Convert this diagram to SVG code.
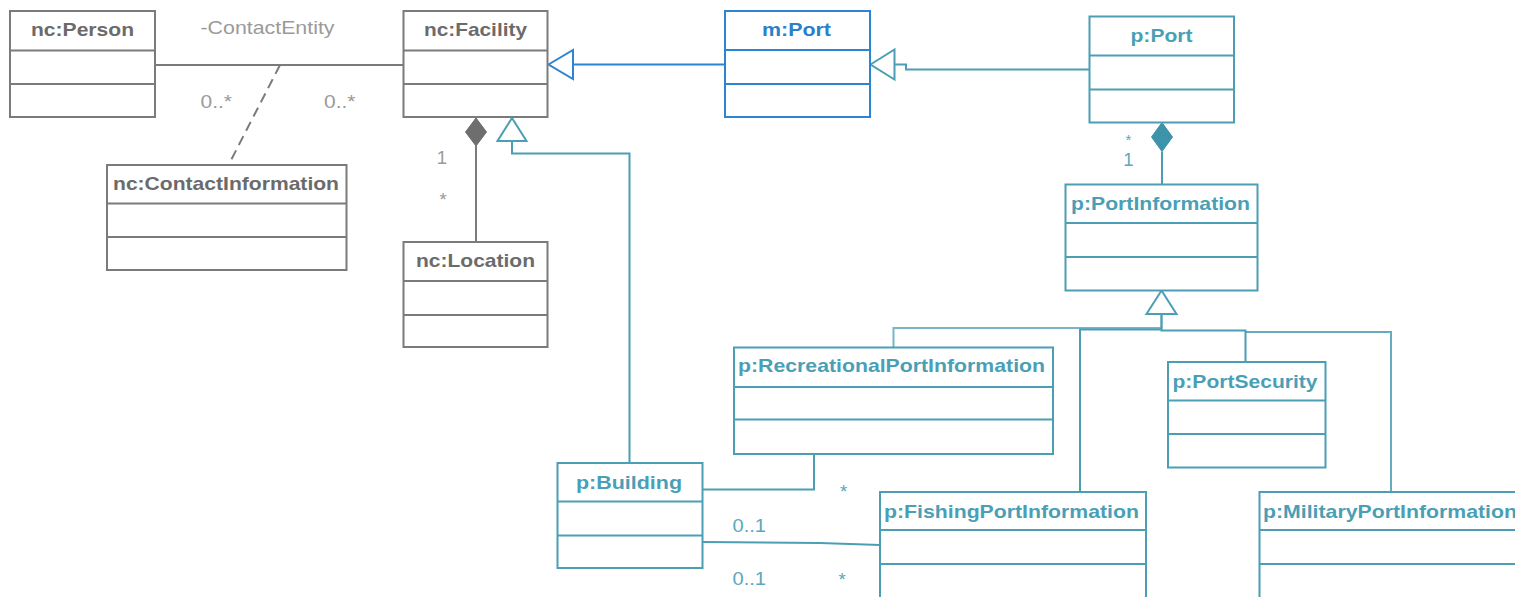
<svg xmlns="http://www.w3.org/2000/svg" width="1515" height="597" viewBox="0 0 1515 597">
  <style>
    .box { fill: #ffffff; stroke-width: 2; }
    .div { stroke-width: 2; fill: none; }
    .gray { stroke: #7b7b7b; }
    .teal { stroke: #4b9eb4; }
    .blue { stroke: #2d84d0; }
    .title { font-family: "Liberation Sans", Arial, sans-serif; font-weight: bold; font-size: 18.5px; text-anchor: middle; }
    .title.start { text-anchor: start; }
    .t-gray { fill: #6b6b6b; }
    .t-teal { fill: #4a9fb6; }
    .t-blue { fill: #2a80cc; }
    .lbl { font-family: "Liberation Sans", Arial, sans-serif; font-size: 18.5px; }
    .star { font-size: 15px; }
    .l-gray { fill: #9a9a9a; }
    .l-teal { fill: #5aa8bd; }
    .line { fill: none; stroke-width: 2; }
  </style>

  <!-- connectors -->
  <g id="connectors">
    <!-- ContactEntity association with association class -->
    <line class="line gray" x1="155" y1="65" x2="403.5" y2="65"/>
    <line class="line gray" x1="280" y1="65" x2="228.5" y2="165" stroke-dasharray="10,6"/>
    <text class="lbl l-gray" x="200.5" y="33.5" textLength="134" lengthAdjust="spacingAndGlyphs">-ContactEntity</text>
    <text class="lbl l-gray" x="200.5" y="107.5" textLength="31.5" lengthAdjust="spacingAndGlyphs">0..*</text>
    <text class="lbl l-gray" x="324" y="107.5" textLength="31.5" lengthAdjust="spacingAndGlyphs">0..*</text>

    <!-- Facility composition of Location -->
    <line class="line gray" x1="476" y1="146" x2="476" y2="242"/>
    <polygon points="476,118 486.5,132 476,146 465.5,132" fill="#6e6e6e" stroke="#6e6e6e" stroke-width="1"/>
    <text class="lbl l-gray" x="442" y="164" text-anchor="middle">1</text>
    <text class="lbl l-gray" x="443" y="206" text-anchor="middle">*</text>

    <!-- Building generalizes Facility -->
    <polyline class="line teal" points="512,141 512,153.5 629.5,153.5 629.5,463"/>
    <polygon points="512,118 526.5,141 497.5,141" fill="#ffffff" stroke="#4b9eb4" stroke-width="2"/>

    <!-- m:Port generalizes Facility -->
    <line class="line blue" x1="573" y1="64.5" x2="725" y2="64.5"/>
    <polygon points="548.5,64.5 573,50 573,79" fill="#ffffff" stroke="#2d84d0" stroke-width="2"/>

    <!-- p:Port generalizes m:Port -->
    <polyline class="line teal" points="894.5,64.5 906,64.5 906,69.5 1089.5,69.5"/>
    <polygon points="870.5,64.5 894.5,49.5 894.5,79.5" fill="#ffffff" stroke="#4b9eb4" stroke-width="2"/>

    <!-- p:Port composition of PortInformation -->
    <line class="line teal" x1="1162" y1="151.5" x2="1162" y2="184.5"/>
    <polygon points="1162,122.5 1172.5,137 1162,151.5 1151.5,137" fill="#3c93aa" stroke="#3c93aa" stroke-width="1"/>
    <text class="lbl star l-teal" x="1128.5" y="144.5" text-anchor="middle">*</text>
    <text class="lbl l-teal" x="1128.5" y="166" text-anchor="middle">1</text>

    <!-- PortInformation specializations -->
    <polyline class="line teal" points="1161.5,314 1161.5,328 893.5,328 893.5,347.5" stroke-opacity="0.75"/>
    <polyline class="line teal" points="1161.5,329.5 1080,329.5 1080,492"/>
    <polyline class="line teal" points="1161.5,314 1161.5,330.5 1245.5,330.5 1245.5,362"/>
    <polyline class="line teal" points="1245.5,332 1391,332 1391,492" stroke-opacity="0.85"/>
    <polygon points="1161.5,290.5 1176.5,314 1146.5,314" fill="#ffffff" stroke="#4b9eb4" stroke-width="2"/>

    <!-- Building associations -->
    <polyline class="line teal" points="814,454 814,489.5 702.5,489.5"/>
    <text class="lbl l-teal" x="843.5" y="498" text-anchor="middle">*</text>
    <polyline class="line teal" points="702.5,542 820,543 880,545"/>
    <text class="lbl l-teal" x="732.5" y="531.5" textLength="33.5" lengthAdjust="spacingAndGlyphs">0..1</text>
    <text class="lbl l-teal" x="732.5" y="585" textLength="33.5" lengthAdjust="spacingAndGlyphs">0..1</text>
    <text class="lbl l-teal" x="842" y="585.5" text-anchor="middle">*</text>
  </g>

  <!-- classes -->
  <g id="nc-person">
    <rect class="box gray" x="10" y="11" width="145" height="106"/>
    <path class="div gray" d="M10 50.5H155M10 84H155"/>
    <text class="title t-gray" x="82.5" y="36" textLength="103" lengthAdjust="spacingAndGlyphs">nc:Person</text>
  </g>

  <g id="nc-facility">
    <rect class="box gray" x="403.5" y="11" width="144" height="106"/>
    <path class="div gray" d="M403.5 50.5H547.5M403.5 84H547.5"/>
    <text class="title t-gray" x="475.5" y="36" textLength="103" lengthAdjust="spacingAndGlyphs">nc:Facility</text>
  </g>

  <g id="nc-contact-information">
    <rect class="box gray" x="107" y="165" width="239.5" height="105"/>
    <path class="div gray" d="M107 203.5H346.5M107 237H346.5"/>
    <text class="title t-gray" x="226" y="190" textLength="226" lengthAdjust="spacingAndGlyphs">nc:ContactInformation</text>
  </g>

  <g id="nc-location">
    <rect class="box gray" x="403.5" y="242" width="144" height="105"/>
    <path class="div gray" d="M403.5 281H547.5M403.5 315H547.5"/>
    <text class="title t-gray" x="475.5" y="267" textLength="119" lengthAdjust="spacingAndGlyphs">nc:Location</text>
  </g>

  <g id="m-port">
    <rect class="box blue" x="725" y="11" width="145" height="106"/>
    <path class="div blue" d="M725 50H870M725 84H870"/>
    <text class="title t-blue" x="796.5" y="36" textLength="69" lengthAdjust="spacingAndGlyphs">m:Port</text>
  </g>

  <g id="p-port">
    <rect class="box teal" x="1089.5" y="16.5" width="144.5" height="106"/>
    <path class="div teal" d="M1089.5 55.5H1234M1089.5 89.5H1234"/>
    <text class="title t-teal" x="1161.5" y="42" textLength="62" lengthAdjust="spacingAndGlyphs">p:Port</text>
  </g>

  <g id="p-port-information">
    <rect class="box teal" x="1065.5" y="184.5" width="192" height="106"/>
    <path class="div teal" d="M1065.5 223H1257.5M1065.5 257H1257.5"/>
    <text class="title t-teal" x="1160.5" y="209.5" textLength="179" lengthAdjust="spacingAndGlyphs">p:PortInformation</text>
  </g>

  <g id="p-recreational-port-information">
    <rect class="box teal" x="734" y="347.5" width="319" height="106.5"/>
    <path class="div teal" d="M734 387H1053M734 419.5H1053"/>
    <text class="title t-teal" x="891.5" y="372" textLength="307" lengthAdjust="spacingAndGlyphs">p:RecreationalPortInformation</text>
  </g>

  <g id="p-port-security">
    <rect class="box teal" x="1168" y="362" width="157.5" height="105.5"/>
    <path class="div teal" d="M1168 400.5H1325.5M1168 434H1325.5"/>
    <text class="title t-teal" x="1245" y="387.5" textLength="145" lengthAdjust="spacingAndGlyphs">p:PortSecurity</text>
  </g>

  <g id="p-building">
    <rect class="box teal" x="557.5" y="463" width="145" height="105"/>
    <path class="div teal" d="M557.5 501.5H702.5M557.5 535.5H702.5"/>
    <text class="title t-teal" x="629" y="489" textLength="106" lengthAdjust="spacingAndGlyphs">p:Building</text>
  </g>

  <g id="p-fishing-port-information">
    <rect class="box teal" x="880" y="492" width="266" height="140"/>
    <path class="div teal" d="M880 530H1146M880 564H1146"/>
    <text class="title t-teal" x="1011.5" y="517.5" textLength="255" lengthAdjust="spacingAndGlyphs">p:FishingPortInformation</text>
  </g>

  <g id="p-military-port-information">
    <rect class="box teal" x="1259.5" y="492" width="280" height="140"/>
    <path class="div teal" d="M1259.5 530H1539.5M1259.5 564H1539.5"/>
    <text class="title start t-teal" x="1263" y="517.5" textLength="254" lengthAdjust="spacingAndGlyphs">p:MilitaryPortInformation</text>
  </g>
</svg>
